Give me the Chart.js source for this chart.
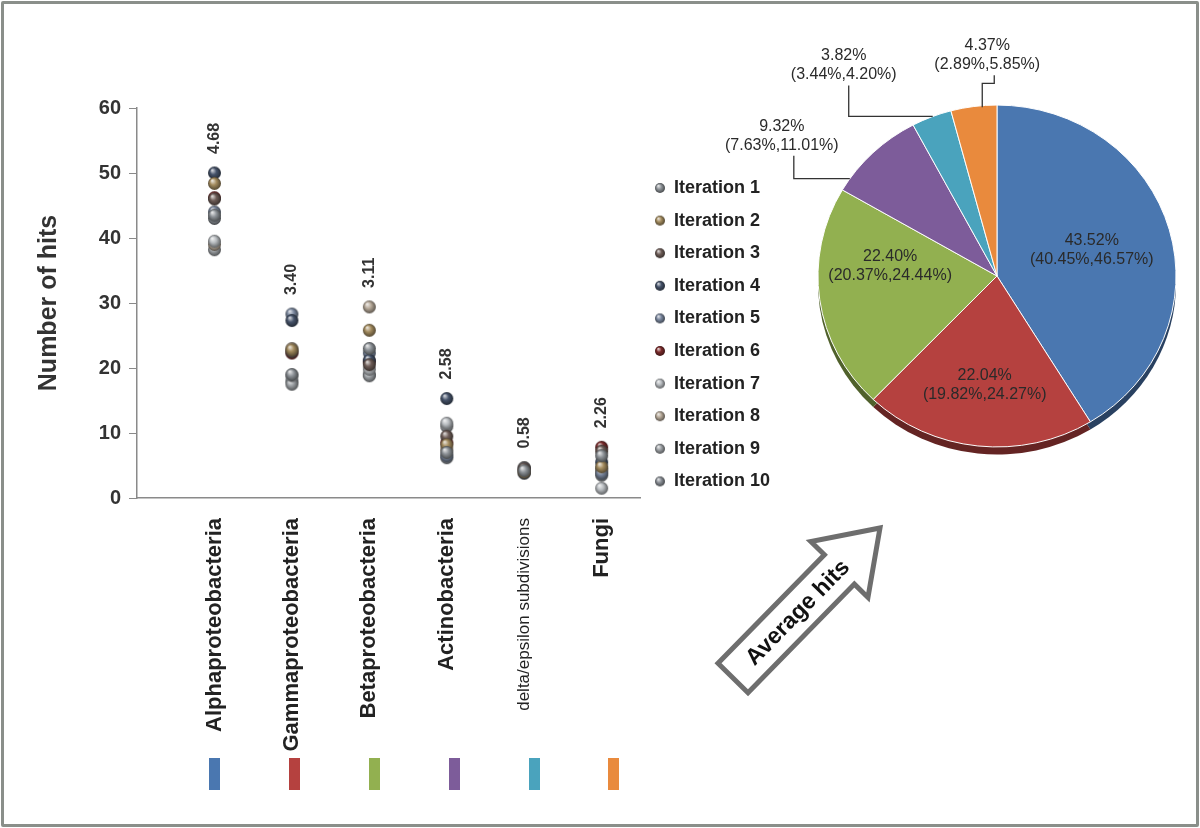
<!DOCTYPE html>
<html>
<head>
<meta charset="utf-8">
<script src="https://cdn.jsdelivr.net/npm/chart.js@4/dist/chart.umd.min.js"></script>
<style>
html,body{margin:0;padding:0;background:#fff;}
body{width:1200px;height:828px;position:relative;overflow:hidden;}
#frame{position:absolute;left:1px;top:1px;width:1192px;height:820px;border:3px solid #8a8f8a;border-radius:2px;}
#c1{position:absolute;left:0;top:0;width:790px;height:828px;}
#c2{position:absolute;left:700px;top:0;width:500px;height:828px;}
</style>
</head>
<body>
<div id="frame"></div>
<canvas id="c1" width="790" height="828"></canvas>
<canvas id="c2" width="500" height="828"></canvas>
<script>
// ---------- DATA ----------
const categories = ['Alphaproteobacteria','Gammaproteobacteria','Betaproteobacteria','Actinobacteria','delta/epsilon subdivisions','Fungi'];
const iterationNames = ['Iteration 1','Iteration 2','Iteration 3','Iteration 4','Iteration 5','Iteration 6','Iteration 7','Iteration 8','Iteration 9','Iteration 10'];
const iteration1  = [43.5, 19.0, 23.0,  7.0, 4.2, 6.5];
const iteration2  = [48.4, 22.8, 25.8,  8.2, 4.0, 4.8];
const iteration3  = [46.0, 22.5, 20.5,  9.5, 4.5, 7.2];
const iteration4  = [50.0, 27.3, 21.2, 15.3, 3.9, 5.5];
const iteration5  = [44.0, 28.3, 22.3,  6.5, 4.6, 3.8];
const iteration6  = [46.2, 22.3, 21.0,  8.5, 4.3, 7.8];
const iteration7  = [39.5, 18.8, 19.8, 11.5, 4.1, 1.5];
const iteration8  = [39.0, 23.0, 29.4,  7.5, 4.7, 4.2];
const iteration9  = [38.2, 17.5, 18.8, 11.0, 3.8, 4.5];
const iteration10 = [43.0, 18.0, 19.0,  6.2, 4.4, 3.5];
const sdLabels = ['4.68','3.40','3.11','2.58','0.58','2.26'];
const yTicks = [0,10,20,30,40,50,60];
const pieMeans = [43.52, 22.04, 22.40, 9.32, 3.82, 4.37];
const pieLow   = [40.45, 19.82, 20.37, 7.63, 3.44, 2.89];
const pieHigh  = [46.57, 24.27, 24.44, 11.01, 4.20, 5.85];

// ---------- STYLE ----------
const iterations = [iteration1,iteration2,iteration3,iteration4,iteration5,iteration6,iteration7,iteration8,iteration9,iteration10];
const iterColors = ['#8e9398','#a48c5f','#6e5d58','#46536a','#7a879e','#7b2b2b','#b8bcc0','#b5a898','#9da1a5','#8a8f96'];
const pieColors = ['#4a77b0','#b5413f','#92b050','#7d5c9a','#4aa3bd','#e98a3d'];
const FONT = '"Liberation Sans", Arial, Helvetica, sans-serif';
Chart.defaults.font.family = FONT;

function hexToRgb(h){h=h.replace('#','');return [parseInt(h.substr(0,2),16),parseInt(h.substr(2,2),16),parseInt(h.substr(4,2),16)];}
function mix(a,b,t){const A=hexToRgb(a),B=hexToRgb(b);return 'rgb('+A.map((v,i)=>Math.round(v+(B[i]-v)*t)).join(',')+')';}
function sphere(hex,r){
  const s=Math.ceil(2*r+2);const c=document.createElement('canvas');c.width=s;c.height=s;
  const g=c.getContext('2d');const cx=s/2,cy=s/2;
  const grd=g.createRadialGradient(cx-r*0.35,cy-r*0.45,r*0.08,cx,cy,r);
  grd.addColorStop(0,mix(hex,'#ffffff',0.75));
  grd.addColorStop(0.45,hex);
  grd.addColorStop(1,mix(hex,'#000000',0.5));
  g.fillStyle=grd;g.beginPath();g.arc(cx,cy,r,0,Math.PI*2);g.fill();
  return c;
}
const bigBalls = iterColors.map(c=>sphere(c,6.5));
const smallBalls = iterColors.map(c=>sphere(c,5));

// ---------- SCATTER ----------
const scatterDecor = {
  id:'scatterDecor',
  afterDatasetsDraw(chart){
    const {ctx, scales:{x,y}} = chart;
    ctx.save();
    ctx.font = 'bold 16px '+FONT; ctx.fillStyle='#333'; ctx.textAlign='left'; ctx.textBaseline='middle';
    categories.forEach((c,i)=>{
      const mx = Math.max(...iterations.map(a=>a[i]));
      const px = x.getPixelForValue(i), py = y.getPixelForValue(mx) - 7 - 12;
      ctx.save(); ctx.translate(px,py); ctx.rotate(-Math.PI/2); ctx.fillText(sdLabels[i],0,0); ctx.restore();
    });
    const x0 = x.getPixelForValue(0);
    categories.forEach((c,i)=>{
      const px = x0 + (x.getPixelForValue(i)-x0)*1.03;
      ctx.fillStyle = pieColors[i]; ctx.fillRect(Math.round(px-5), 758, 11, 32);
    });
    ctx.restore();
  }
};

new Chart(document.getElementById('c1'), {
  type:'scatter',
  data:{ datasets: iterations.map((vals,k)=>({
    label: iterationNames[k],
    data: vals.map((v,i)=>({x:i,y:v})),
    pointStyle: bigBalls[k], pointRadius:6.5, pointHoverRadius:6.5,
    backgroundColor: iterColors[k], borderColor: iterColors[k], borderWidth:0
  }))},
  options:{
    responsive:false, animation:false,
    layout:{padding:{left:34, top:108, right:10, bottom:0}},
    plugins:{
      tooltip:{enabled:false},
      legend:{
        position:'right', align:'start',
        title:{display:true, text:'', padding:{top:42,bottom:0}},
        labels:{
          usePointStyle:true, boxWidth:10, padding:14.6, color:'#222',
          font:{size:18, weight:'bold'},
          generateLabels(chart){
            const items = Chart.defaults.plugins.legend.labels.generateLabels(chart);
            items.forEach((it,k)=>{ it.pointStyle = smallBalls[k]; });
            return items;
          }
        }
      }
    },
    scales:{
      x:{
        type:'linear', min:-1, max:5.5,
        afterBuildTicks: s=>{ s.ticks = categories.map((c,i)=>({value:i})); },
        afterFit: s=>{ s.height = 330; },
        ticks:{ autoSkip:false, minRotation:90, maxRotation:90, padding:12, color:'#222',
          callback: v=>categories[v],
          font: ctx => (ctx.index===4 ? {size:17, weight:'normal'} : {size:22, weight:'bold'}) },
        grid:{display:false},
        border:{color:'#8a8a8a', width:1.5}
      },
      y:{
        min:0, max:60,
        afterBuildTicks: s=>{ s.ticks = yTicks.map(v=>({value:v})); },
        afterFit: s=>{ s.width = 103; },
        ticks:{ color:'#333', font:{size:20, weight:'bold'}, padding:8 },
        grid:{ drawOnChartArea:false, tickLength:8, color:'#8a8a8a' },
        border:{color:'#8a8a8a', width:1.5},
        title:{display:true, text:'Number of hits', color:'#333', font:{size:25, weight:'bold'}, padding:{top:0,bottom:0}}
      }
    }
  },
  plugins:[scatterDecor]
});

// ---------- PIE ----------
const YS = 0.955;
const placement = [
  {inside:true, frac:0.5, rf:0.55},
  {inside:true, frac:0.5, rf:0.64},
  {inside:true, frac:0.68, rf:0.60},
  {inside:false, frac:0.14, rf:1.0, dx:-68, dy:-43, lineDx:12, elbow:null},
  {inside:false, frac:0.53, rf:1.0, dx:-89, dy:-51, lineDx:5, elbow:null},
  {inside:false, frac:0.68, rf:0.99, dx:5, dy:-52, lineDx:7, elbow:8}
];
function darker(hex){return mix(hex,'#000000',0.45);}
const pieDecor = {
  id:'pieDecor',
  beforeDatasetsDraw(chart){
    const ctx=chart.ctx; const arcs=chart.getDatasetMeta(0).data;
    const cx=arcs[0].x, cy=arcs[0].y;
    ctx.save();
    ctx.translate(cx,cy); ctx.scale(1,YS); ctx.translate(-cx,-cy);
    arcs.forEach((a,i)=>{
      ctx.beginPath(); ctx.moveTo(a.x,a.y+8);
      ctx.arc(a.x,a.y+8,a.outerRadius,a.startAngle,a.endAngle); ctx.closePath();
      ctx.fillStyle=darker(pieColors[i]); ctx.fill();
    });
  },
  afterDatasetsDraw(chart){
    const ctx=chart.ctx; ctx.restore();
    const arcs=chart.getDatasetMeta(0).data;
    ctx.save();
    ctx.font='16px '+FONT; ctx.fillStyle='#2a2a2a'; ctx.textAlign='center'; ctx.textBaseline='middle';
    ctx.strokeStyle='#333'; ctx.lineWidth=1.3;
    arcs.forEach((a,i)=>{
      const p=placement[i];
      const ang=a.startAngle+(a.endAngle-a.startAngle)*p.frac;
      const r=a.outerRadius*p.rf;
      const ax=a.x+r*Math.cos(ang), ay=a.y+r*Math.sin(ang)*YS;
      const l1=pieMeans[i].toFixed(2)+'%';
      const l2='('+pieLow[i].toFixed(2)+'%,'+pieHigh[i].toFixed(2)+'%)';
      if(p.inside){
        ctx.fillText(l1,ax,ay-9.5); ctx.fillText(l2,ax,ay+9.5);
      } else {
        const lx=ax+p.dx, ly=ay+p.dy;
        ctx.fillText(l1,lx,ly-9.5); ctx.fillText(l2,lx,ly+9.5);
        const sx=lx+p.lineDx, sy=ly+20;
        ctx.beginPath(); ctx.moveTo(sx,sy);
        if(p.elbow===null){ ctx.lineTo(sx,ay); ctx.lineTo(ax,ay); }
        else { ctx.lineTo(sx,sy+p.elbow); ctx.lineTo(ax,sy+p.elbow); ctx.lineTo(ax,ay); }
        ctx.stroke();
      }
    });
    ctx.restore();
  },
  afterDraw(chart){
    // "Average hits" arrow annotation
    const ctx=chart.ctx;
    const tx=33, ty=678, hx=180, hy=528;
    const th=Math.atan2(hy-ty,hx-tx), L=Math.hypot(hx-tx,hy-ty);
    const w=21, hw=40, hl=58;
    ctx.save(); ctx.translate(tx,ty); ctx.rotate(th);
    ctx.beginPath();
    ctx.moveTo(0,-w); ctx.lineTo(L-hl,-w); ctx.lineTo(L-hl,-hw); ctx.lineTo(L,0);
    ctx.lineTo(L-hl,hw); ctx.lineTo(L-hl,w); ctx.lineTo(0,w); ctx.closePath();
    ctx.fillStyle='#fff'; ctx.fill();
    ctx.lineWidth=5; ctx.strokeStyle='#6e6e6e'; ctx.lineJoin='miter'; ctx.stroke();
    ctx.font='bold 23px '+FONT; ctx.fillStyle='#111'; ctx.textAlign='center'; ctx.textBaseline='middle';
    ctx.fillText('Average hits',92,1);
    ctx.restore();
  }
};

new Chart(document.getElementById('c2'), {
  type:'pie',
  data:{ labels: categories, datasets:[{ data: pieMeans, backgroundColor: pieColors, borderColor:'#ffffff', borderWidth:1 }]},
  options:{
    responsive:false, animation:false,
    layout:{padding:{left:117.5, right:23.5, top:96.5, bottom:372.5}},
    plugins:{ legend:{display:false}, tooltip:{enabled:false} }
  },
  plugins:[pieDecor]
});
</script>
</body>
</html>
